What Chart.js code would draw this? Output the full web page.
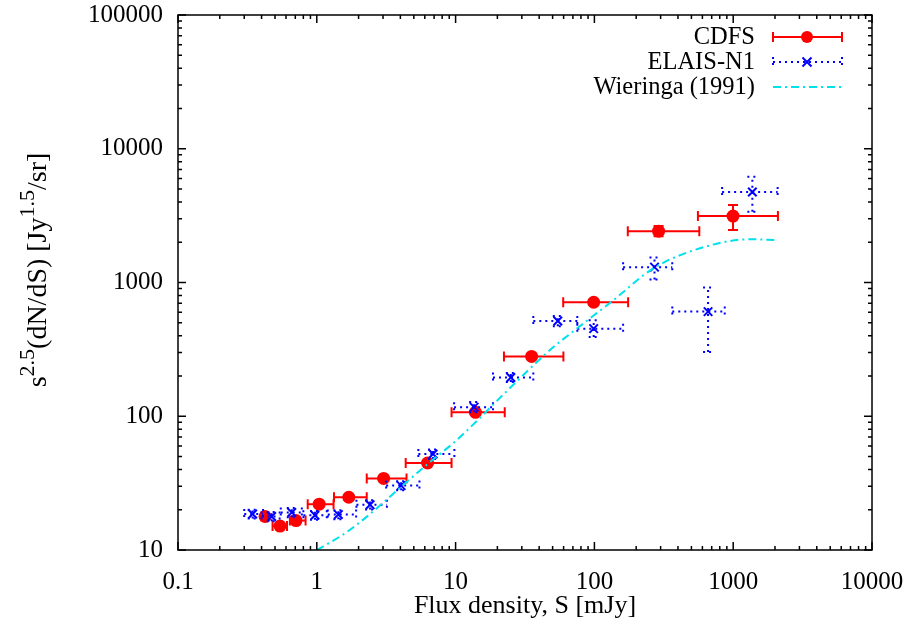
<!DOCTYPE html>
<html>
<head>
<meta charset="utf-8">
<script src="https://cdn.jsdelivr.net/npm/chart.js@4"></script>
<style>
  html, body { margin: 0; padding: 0; background: #fff; }
  #wrap { width: 909px; height: 630px; }
</style>
</head>
<body>
<div id="wrap"><canvas id="counts-chart" width="909" height="630"></canvas></div>
<script>
// tick labels
const xTicks = [0.1, 1, 10, 100, 1000, 10000];
const xTickLabels = ['0.1', '1', '10', '100', '1000', '10000'];
const yTicks = [10, 100, 1000, 10000, 100000];
const yTickLabels = ['10', '100', '1000', '10000', '100000'];

// CDFS
const cdfsS   = [0.424, 0.543, 0.708, 1.04, 1.70, 3.03, 6.28, 13.9, 35.3, 98.8, 290, 997];
const cdfsSLo = [0.40, 0.48, 0.64, 0.86, 1.33, 2.29, 4.37, 9.35, 22.3, 59.6, 174, 557];
const cdfsSHi = [0.45, 0.61, 0.83, 1.32, 2.29, 4.43, 9.35, 22.6, 59.8, 175, 570, 2100];
const cdfsN   = [17.8, 15.1, 16.6, 22.0, 24.8, 34.3, 44.7, 107, 280, 712, 2420, 3140];
const cdfsNLo = [17.0, 14.4, 15.8, 21.0, 23.7, 32.8, 42.7, 102, 267, 680, 2220, 2470];
const cdfsNHi = [18.6, 15.8, 17.4, 23.0, 25.9, 35.8, 46.7, 112, 293, 745, 2640, 3790];

// ELAIS-N1
const elaisS   = [0.345, 0.473, 0.66, 0.97, 1.43, 2.42, 4.05, 6.88, 13.6, 25.0, 54.5, 98.8, 271, 659, 1374];
const elaisSLo = [0.30, 0.40, 0.55, 0.80, 1.20, 1.93, 3.16, 5.39, 9.75, 18.6, 36.3, 75.3, 161, 364, 832];
const elaisSHi = [0.41, 0.54, 0.78, 1.18, 1.92, 3.2, 5.49, 9.8, 18.6, 36.3, 75.3, 161, 364, 869, 2090];
const elaisN   = [18.6, 17.8, 19.1, 18.2, 18.4, 21.8, 30.3, 52.2, 117, 195, 516, 452, 1303, 606, 4753];
const elaisNLo = [17.2, 16.4, 17.6, 16.8, 17.0, 20.1, 28.0, 48.0, 107, 180, 470, 391, 1053, 302, 3380];
const elaisNHi = [20.0, 19.2, 20.6, 19.6, 19.8, 23.5, 32.6, 56.5, 128, 211, 562, 522, 1540, 917, 6180];

// Wieringa (1991)
const wierS = [1.0, 1.52, 2.15, 4.1, 6.3, 10.2, 23.8, 47.9, 72.4, 133, 266, 577, 1321, 2056];
const wierN = [10, 12.9, 16.8, 30, 44, 66.4, 157, 313, 441, 719, 1276, 1803, 2105, 2080];

const serif = "'Liberation Serif', 'DejaVu Serif', serif";
const RED = 'rgb(255, 0, 0)';
const BLUE = 'rgb(0, 0, 255)';
const CYAN = 'rgb(0, 225, 235)';

function toPoints(xs, ys) {
  return xs.map((x, i) => ({ x: x, y: ys[i] }));
}

function drawCross(ctx, x, y, r) {
  ctx.beginPath();
  ctx.moveTo(x - r, y - r); ctx.lineTo(x + r, y + r);
  ctx.moveTo(x - r, y + r); ctx.lineTo(x + r, y - r);
  ctx.stroke();
}

// error bars, drawn just before the dataset's own markers
const errorBars = {
  id: 'errorBars',
  beforeDatasetDraw(chart, args) {
    const ds = chart.data.datasets[args.index];
    if (!ds.err) return;
    const ctx = chart.ctx, xs = chart.scales.x, ys = chart.scales.y, a = chart.chartArea;
    const e = ds.err, cap = 5;
    ctx.save();
    ctx.beginPath();
    ctx.rect(a.left, a.top, a.right - a.left, a.bottom - a.top);
    ctx.clip();
    ctx.strokeStyle = ds.borderColor;
    ctx.lineWidth = 2;
    ctx.setLineDash(e.dash);
    for (let i = 0; i < e.x.length; i++) {
      const px = xs.getPixelForValue(e.x[i]), py = ys.getPixelForValue(e.y[i]);
      const x0 = xs.getPixelForValue(e.xLo[i]), x1 = xs.getPixelForValue(e.xHi[i]);
      const y0 = ys.getPixelForValue(e.yLo[i]), y1 = ys.getPixelForValue(e.yHi[i]);
      ctx.beginPath();
      ctx.moveTo(x0, py); ctx.lineTo(x1, py);
      ctx.moveTo(x0, py - cap); ctx.lineTo(x0, py + cap);
      ctx.moveTo(x1, py - cap); ctx.lineTo(x1, py + cap);
      ctx.moveTo(px, y0); ctx.lineTo(px, y1);
      ctx.moveTo(px - cap, y0); ctx.lineTo(px + cap, y0);
      ctx.moveTo(px - cap, y1); ctx.lineTo(px + cap, y1);
      ctx.stroke();
    }
    ctx.restore();
  }
};

// frame, inward ticks, y title and key
const decorations = {
  id: 'decorations',
  afterDraw(chart) {
    const ctx = chart.ctx, a = chart.chartArea, xs = chart.scales.x, ys = chart.scales.y;
    ctx.save();
    ctx.strokeStyle = '#000';
    ctx.lineWidth = 1.5;
    ctx.strokeRect(a.left, a.top, a.right - a.left, a.bottom - a.top);

    ctx.beginPath();
    for (let d = -1; d <= 4; d++) {
      for (let m = 1; m <= 9; m++) {
        const v = m * Math.pow(10, d);
        if (v < 0.1 || v > 10000) continue;
        const px = xs.getPixelForValue(v), len = m === 1 ? 8 : 4;
        ctx.moveTo(px, a.bottom); ctx.lineTo(px, a.bottom - len);
        ctx.moveTo(px, a.top); ctx.lineTo(px, a.top + len);
      }
    }
    for (let d = 1; d <= 5; d++) {
      for (let m = 1; m <= 9; m++) {
        const v = m * Math.pow(10, d);
        if (v > 100000) continue;
        const py = ys.getPixelForValue(v), len = m === 1 ? 8 : 4;
        ctx.moveTo(a.left, py); ctx.lineTo(a.left + len, py);
        ctx.moveTo(a.right, py); ctx.lineTo(a.right - len, py);
      }
    }
    ctx.stroke();

    // y axis title with superscripts
    const big = '28px ' + serif, small = '22px ' + serif;
    const parts = [['s', big, 0], ['2.5', small, -12], ['(dN/dS) [Jy', big, 0], ['1.5', small, -12], ['/sr]', big, 0]];
    let total = 0;
    parts.forEach(p => { ctx.font = p[1]; total += ctx.measureText(p[0]).width; });
    ctx.translate(46, 270);
    ctx.rotate(-Math.PI / 2);
    ctx.fillStyle = '#000';
    ctx.textBaseline = 'alphabetic';
    ctx.textAlign = 'left';
    let cx = -total / 2;
    parts.forEach(p => {
      ctx.font = p[1];
      ctx.fillText(p[0], cx, p[2]);
      cx += ctx.measureText(p[0]).width;
    });
    ctx.setTransform(1, 0, 0, 1, 0, 0);

    // key
    const keyText = ['CDFS', 'ELAIS-N1', 'Wieringa (1991)'];
    const keyY = [37, 62, 87];
    const sx0 = 773, sx1 = 842, mid = 807;
    ctx.font = '24.5px ' + serif;
    ctx.textAlign = 'right';
    ctx.textBaseline = 'middle';
    keyText.forEach((t, i) => ctx.fillText(t, 755, keyY[i] + 1));

    ctx.lineWidth = 2;
    ctx.strokeStyle = RED;
    ctx.beginPath();
    ctx.moveTo(sx0, keyY[0]); ctx.lineTo(sx1, keyY[0]);
    ctx.moveTo(sx0, keyY[0] - 5); ctx.lineTo(sx0, keyY[0] + 5);
    ctx.moveTo(sx1, keyY[0] - 5); ctx.lineTo(sx1, keyY[0] + 5);
    ctx.stroke();
    ctx.fillStyle = RED;
    ctx.beginPath();
    ctx.arc(mid, keyY[0], 6, 0, Math.PI * 2);
    ctx.fill();

    ctx.strokeStyle = BLUE;
    ctx.setLineDash([2, 4]);
    ctx.beginPath();
    ctx.moveTo(sx0, keyY[1]); ctx.lineTo(sx1, keyY[1]);
    ctx.moveTo(sx0, keyY[1] - 5); ctx.lineTo(sx0, keyY[1] + 5);
    ctx.moveTo(sx1, keyY[1] - 5); ctx.lineTo(sx1, keyY[1] + 5);
    ctx.stroke();
    ctx.setLineDash([]);
    drawCross(ctx, mid, keyY[1], 4.5);

    ctx.strokeStyle = CYAN;
    ctx.setLineDash([8, 4, 2, 4]);
    ctx.beginPath();
    ctx.moveTo(sx0, keyY[2]); ctx.lineTo(sx1, keyY[2]);
    ctx.stroke();
    ctx.restore();
  }
};

function noScalePadding(scale) {
  scale.paddingLeft = 0;
  scale.paddingRight = 0;
  scale.paddingTop = 0;
  scale.paddingBottom = 0;
}

function renderChart() {
  const ctx = document.getElementById('counts-chart').getContext('2d');
  new Chart(ctx, {
    type: 'scatter',
    data: {
      datasets: [
        {
          label: 'CDFS',
          data: toPoints(cdfsS, cdfsN),
          order: 2,
          borderColor: RED,
          backgroundColor: RED,
          pointStyle: 'circle',
          pointRadius: 6.5,
          pointBorderWidth: 0,
          err: { x: cdfsS, y: cdfsN, xLo: cdfsSLo, xHi: cdfsSHi, yLo: cdfsNLo, yHi: cdfsNHi, dash: [] },
        },
        {
          label: 'ELAIS-N1',
          data: toPoints(elaisS, elaisN),
          order: 1,
          borderColor: BLUE,
          backgroundColor: BLUE,
          pointStyle: 'crossRot',
          pointRadius: 6,
          pointBorderWidth: 2,
          err: { x: elaisS, y: elaisN, xLo: elaisSLo, xHi: elaisSHi, yLo: elaisNLo, yHi: elaisNHi, dash: [2, 4] },
        },
        {
          label: 'Wieringa (1991)',
          type: 'line',
          data: toPoints(wierS, wierN),
          order: 0,
          borderColor: CYAN,
          borderWidth: 2,
          borderDash: [8, 4, 2, 4],
          pointRadius: 0,
          cubicInterpolationMode: 'monotone',
          fill: false,
        },
      ],
    },
    options: {
      responsive: false,
      animation: false,
      layout: { padding: { left: 0, top: 15, right: 37, bottom: 0 } },
      plugins: { legend: { display: false }, tooltip: { enabled: false } },
      scales: {
        x: {
          type: 'logarithmic',
          min: 0.1,
          max: 10000,
          grid: { display: false, drawTicks: false },
          border: { display: false },
          afterBuildTicks: (scale) => { scale.ticks = xTicks.map(v => ({ value: v })); },
          afterFit: (scale) => { scale.height = 80; noScalePadding(scale); },
          ticks: {
            autoSkip: false,
            maxRotation: 0,
            padding: 17,
            color: '#000',
            font: { family: serif, size: 25 },
            callback: (v) => xTickLabels[xTicks.indexOf(v)],
          },
          title: {
            display: true,
            text: 'Flux density, S [mJy]',
            color: '#000',
            font: { family: serif, size: 26 },
            padding: { top: 0, bottom: 8 },
          },
        },
        y: {
          type: 'logarithmic',
          min: 10,
          max: 100000,
          grid: { display: false, drawTicks: false },
          border: { display: false },
          afterBuildTicks: (scale) => { scale.ticks = yTicks.map(v => ({ value: v })); },
          afterFit: (scale) => { scale.width = 178; noScalePadding(scale); },
          ticks: {
            autoSkip: false,
            padding: 15,
            color: '#000',
            font: { family: serif, size: 25 },
            callback: (v) => yTickLabels[yTicks.indexOf(v)],
          },
        },
      },
    },
    plugins: [errorBars, decorations],
  });
}

window.onload = () => {
  renderChart();
};
</script>
</body>
</html>
